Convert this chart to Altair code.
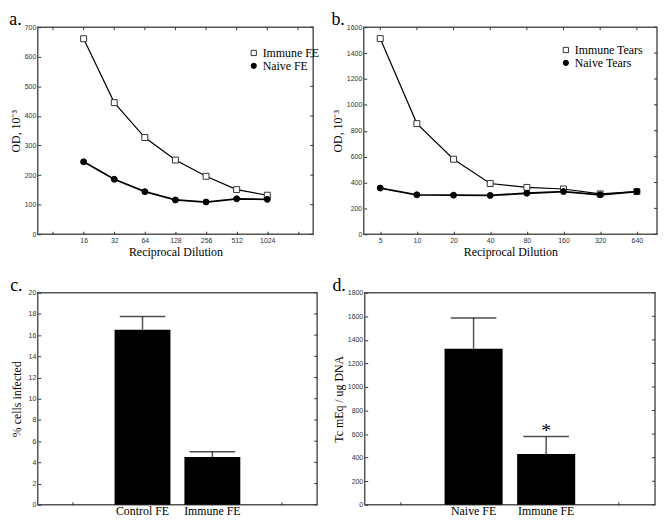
import altair as alt
import pandas as pd

# ---------------- data ----------------
# panel a
dil_a = [16, 32, 64, 128, 256, 512, 1024]
immune_fe = [661, 445, 327, 251, 196, 151, 132]
naive_fe = [245, 186, 144, 116, 109, 120, 118]
series_a = ["Immune FE", "Naive FE"]
ticks_a = [8, 16, 32, 64, 128, 256, 512, 1024, 2048]
# panel b
dil_b = [5, 10, 20, 40, 80, 160, 320, 640]
immune_tears = [1512, 855, 580, 392, 362, 350, 312, 330]
naive_tears = [357, 305, 302, 300, 317, 330, 305, 330]
series_b = ["Immune Tears", "Naive Tears"]
ticks_b = [5, 10, 20, 40, 80, 160, 320, 640]
# panel c
cats_c = ["Control FE", "Immune FE"]
pct_infected = [16.5, 4.5]
pct_err = [1.25, 0.5]
sig_c = ["", ""]
# panel d
cats_d = ["Naive FE", "Immune FE"]
tc_meq = [1325, 431]
tc_err = [260, 148]
sig_d = ["", "*"]

SERIF = "Liberation Serif"
SANS = "Liberation Sans"
INWARD = alt.ExprRef(expr="-3")
TICKC = "#333"
AX = dict(labelFont=SANS, labelFontSize=7, labelColor="#333", tickColor=TICKC,
          tickSize=INWARD, labelPadding=5, domain=False, grid=False,
          titleFont=SERIF, titleFontSize=12, titleFontWeight="normal", titleColor="black",
          labelOverlap=False)


def letter_title(t):
    return alt.TitleParams(t, anchor="start", frame="bounds", font=SERIF, fontSize=18,
                           fontWeight="normal", offset=-6)


def right_ticks(yvals, ys, width):
    return alt.Chart(pd.DataFrame({"v": yvals})).mark_rule(color=TICKC, strokeWidth=1).encode(
        y=alt.Y("v:Q", scale=ys, axis=None),
        x=alt.value(width - 3), x2=alt.value(width))


def top_ticks(xvals, xs):
    return alt.Chart(pd.DataFrame({"v": xvals})).mark_rule(color=TICKC, strokeWidth=1).encode(
        x=alt.X("v:Q", scale=xs, axis=None),
        y=alt.value(0), y2=alt.value(3))


def line_panel(dils, ser_vals, names, field, xdomain, xticks, xlab_min, xlab_max,
               ymax, ystep, width, height, letter, lx, ly):
    rows = []
    for name, vals in zip(names, ser_vals):
        for d, v in zip(dils, vals):
            rows.append({"dil": d, "od": v, field: name})
    df = pd.DataFrame(rows)
    xs = alt.Scale(type="log", base=2, domain=xdomain)
    ys = alt.Scale(domain=[0, ymax], nice=False, zero=True)
    yvals = list(range(0, ymax + 1, ystep))
    lab = f"datum.value >= {xlab_min} && datum.value <= {xlab_max} ? format(datum.value, 'd') : ''"
    leg = alt.Legend(title=None, orient="none", legendX=lx, legendY=ly, padding=0,
                     labelFont=SERIF, labelFontSize=12, labelColor="black",
                     symbolSize=28, rowPadding=1, labelOffset=3, symbolStrokeWidth=1)
    base = alt.Chart(df)
    xenc = alt.X("dil:Q", scale=xs, axis=alt.Axis(values=xticks, labelExpr=lab,
                                                   title="Reciprocal Dilution", titlePadding=3, **AX))
    yenc = alt.Y("od:Q", scale=ys, axis=alt.Axis(values=yvals, format="d", title="OD, 10⁻³",
                                                  titlePadding=2, **AX))
    xnone = alt.X("dil:Q", scale=xs, axis=None)
    ynone = alt.Y("od:Q", scale=ys, axis=None)
    line_imm = base.transform_filter(alt.datum[field] == names[0]).mark_line(
        color="black", strokeWidth=1.2).encode(x=xenc, y=yenc)
    line_nai = base.transform_filter(alt.datum[field] == names[1]).mark_line(
        color="black", strokeWidth=1.8).encode(x=xnone, y=ynone)
    pts = base.mark_point(filled=True, opacity=1, strokeWidth=1, size=36).encode(
        x=xnone, y=ynone,
        shape=alt.Shape(f"{field}:N", scale=alt.Scale(domain=names, range=["square", "circle"]), legend=leg),
        fill=alt.Fill(f"{field}:N", scale=alt.Scale(domain=names, range=["white", "black"]), legend=leg),
        stroke=alt.Stroke(f"{field}:N", scale=alt.Scale(domain=names, range=["#333", "black"]), legend=leg),
    )
    return (alt.layer(line_imm, line_nai, pts, right_ticks(yvals, ys, width), top_ticks(xticks, xs))
            .resolve_axis(x="independent", y="independent")
            .properties(width=width, height=height, title=letter_title(letter)))


def bar_panel(cats, vals, errs, sig, ymax, ystep, ytitle, tpad, width, height, letter):
    df = pd.DataFrame({"cat": cats, "val": vals, "err": errs, "sig": sig})
    dom = ["_l"] + cats + ["_r"]
    xs = alt.Scale(domain=dom, paddingInner=0.2, paddingOuter=0.1)
    ys = alt.Scale(domain=[0, ymax], nice=False, zero=True)
    yvals = list(range(0, ymax + 1, ystep))
    base = alt.Chart(df).transform_calculate(top="datum.val + datum.err")
    xaxis = alt.Axis(labelExpr="indexof(datum.value, '_') == 0 ? '' : datum.value",
                     title=None, labelAngle=0,
                     **{**AX, "labelFont": SERIF, "labelFontSize": 12, "labelColor": "black",
                        "labelPadding": 4})
    xnone = alt.X("cat:N", scale=xs, sort=dom, axis=None)
    yaxis = alt.Axis(values=yvals, format="d", title=ytitle, titlePadding=tpad, **AX)
    bars = base.mark_bar(color="black").encode(
        x=alt.X("cat:N", scale=xs, sort=dom, axis=xaxis),
        y=alt.Y("val:Q", scale=ys, axis=yaxis))
    rule = base.mark_rule(color="#555", strokeWidth=1.5).encode(
        x=xnone, y=alt.Y("val:Q", scale=ys, axis=None), y2="top:Q")
    cap = base.mark_tick(color="black", size=46, thickness=1.5, orient="horizontal").encode(
        x=xnone, y=alt.Y("top:Q", scale=ys, axis=None))
    star = base.mark_text(font=SERIF, fontSize=20, dy=-6, baseline="middle").encode(
        x=xnone, y=alt.Y("top:Q", scale=ys, axis=None), text="sig:N")
    return (alt.layer(bars, rule, cap, star, right_ticks(yvals, ys, width))
            .resolve_axis(x="independent", y="independent")
            .properties(width=width, height=height, title=letter_title(letter)))


pa = line_panel(dil_a, [immune_fe, naive_fe], series_a, "series_a", [2 ** 2.5, 2 ** 11.5],
                ticks_a, 16, 1024, 700, 100, 278, 209, "a.", 212, 20)
pb = line_panel(dil_b, [immune_tears, naive_tears], series_b, "series_b", [5 / 2 ** 0.45, 640 * 2 ** 0.55],
                ticks_b, 5, 640, 1600, 200, 296, 209, "b.", 198, 17)
pc = bar_panel(cats_c, pct_infected, pct_err, sig_c, 20, 2, "% cells infected", 5, 282, 214, "c.")
pd_ = bar_panel(cats_d, tc_meq, tc_err, sig_d, 1800, 200, "Tc mEq / ug DNA", 2, 293, 214, "d.")

row1 = (alt.hconcat(pa, pb, spacing=10)
        .resolve_scale(shape="independent", fill="independent", stroke="independent")
        .resolve_legend(shape="independent", fill="independent", stroke="independent"))
row2 = alt.hconcat(pc, pd_, spacing=12)
chart = (alt.vconcat(row1, row2, spacing=18)
         .properties(padding=0, background="white")
         .configure_view(stroke="#555", strokeWidth=1.5)
         .configure_point(strokeWidth=1))

chart.save("out.html", embed_options={"renderer": "svg", "actions": False})
